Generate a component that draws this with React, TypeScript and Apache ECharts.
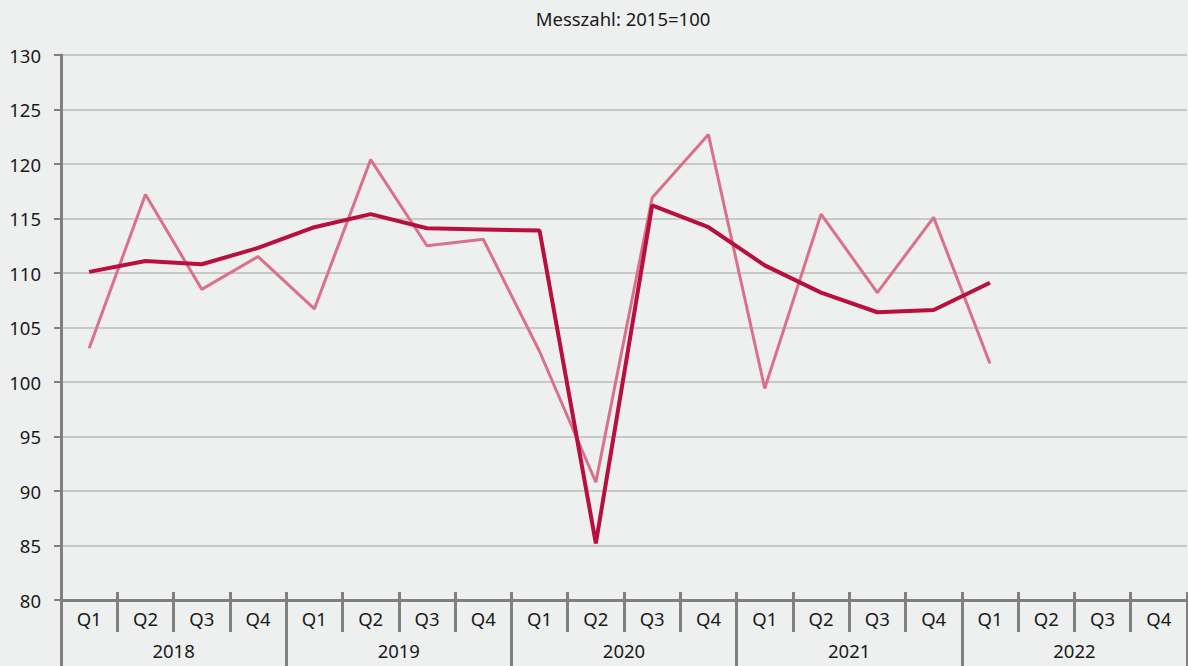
import React, { useEffect, useRef } from "react";
import * as echarts from "echarts";

const quarters = [
  "Q1","Q2","Q3","Q4","Q1","Q2","Q3","Q4","Q1","Q2","Q3","Q4","Q1","Q2","Q3","Q4","Q1","Q2","Q3","Q4",
];
const years = ["2018", "2019", "2020", "2021", "2022"];
const darkSeries = [
  110.1, 111.1, 110.8, 112.3, 114.2, 115.4, 114.1, 114.0, 113.9, 85.2,
  116.2, 114.2, 110.7, 108.2, 106.4, 106.6, 109.1, null, null, null,
];
const pinkSeries = [
  103.1, 117.2, 108.5, 111.5, 106.7, 120.4, 112.5, 113.1, 102.8, 90.8,
  116.9, 122.7, 99.4, 115.4, 108.2, 115.1, 101.7, null, null, null,
];
const titleText = "Messzahl: 2015=100";

const FONT = "'Noto Sans', 'Open Sans', sans-serif";
const TEXT_COLOR = "#1a1a1a";
const AXIS_COLOR = "#808080";
const GRID_COLOR = "#c8c8c8";
const FS = 18.5;

export default function App() {
  const ref = useRef<HTMLDivElement>(null);
  useEffect(() => {
    document.body.style.margin = "0";
    const chart = echarts.init(ref.current!, null, { renderer: "svg" });
    chart.setOption({
      animation: false,
      backgroundColor: "#eeefef",
      textStyle: { fontFamily: FONT },
      graphic: [
        {
          type: "text",
          x: 623,
          y: 18,
          style: {
            text: titleText,
            fill: TEXT_COLOR,
            font: `${FS}px ${FONT}`,
            textAlign: "center",
            textVerticalAlign: "middle",
          },
        },
      ],
      grid: { left: 61, right: 1, top: 55, bottom: 66, containLabel: false },
      xAxis: [
        {
          type: "category",
          data: quarters,
          position: "bottom",
          offset: 0,
          boundaryGap: true,
          axisLine: { show: true, lineStyle: { color: AXIS_COLOR, width: 3 } },
          axisTick: { show: true, length: 32, lineStyle: { color: AXIS_COLOR, width: 3 } },
          axisLabel: { color: TEXT_COLOR, fontSize: FS, fontFamily: FONT, margin: 9, interval: 0 },
          splitLine: { show: false },
        },
        {
          type: "category",
          data: quarters,
          position: "bottom",
          offset: 0,
          boundaryGap: true,
          axisLine: { show: false },
          axisTick: { show: true, inside: true, length: 8, lineStyle: { color: AXIS_COLOR, width: 3 } },
          axisLabel: { show: false },
          splitLine: { show: false },
        },
        {
          type: "category",
          data: years,
          position: "bottom",
          offset: 0,
          boundaryGap: true,
          axisLine: { show: false },
          axisTick: { show: true, length: 66, interval: 0, lineStyle: { color: AXIS_COLOR, width: 3 } },
          axisLabel: { color: TEXT_COLOR, fontSize: FS, fontFamily: FONT, margin: 41, interval: 0 },
          splitLine: { show: false },
        },
      ],
      yAxis: {
        type: "value",
        min: 80,
        max: 130,
        interval: 5,
        axisLine: { show: true, lineStyle: { color: AXIS_COLOR, width: 3 } },
        axisTick: { show: true, length: 7, lineStyle: { color: AXIS_COLOR, width: 2 } },
        axisLabel: { color: TEXT_COLOR, fontSize: FS, fontFamily: FONT, margin: 20 },
        splitLine: { show: true, lineStyle: { color: GRID_COLOR, width: 2 } },
      },
      series: [
        {
          type: "line",
          data: pinkSeries,
          xAxisIndex: 0,
          showSymbol: false,
          symbol: "none",
          lineStyle: { color: "#d9718c", width: 3 },
          itemStyle: { color: "#d9718c" },
          connectNulls: false,
          z: 2,
        },
        {
          type: "line",
          data: darkSeries,
          xAxisIndex: 0,
          showSymbol: false,
          symbol: "none",
          lineStyle: { color: "#b80f3f", width: 4 },
          itemStyle: { color: "#b80f3f" },
          connectNulls: false,
          z: 3,
        },
      ],
    });
    return () => chart.dispose();
  }, []);
  return <div ref={ref} style={{ width: 1188, height: 666 }} />;
}
